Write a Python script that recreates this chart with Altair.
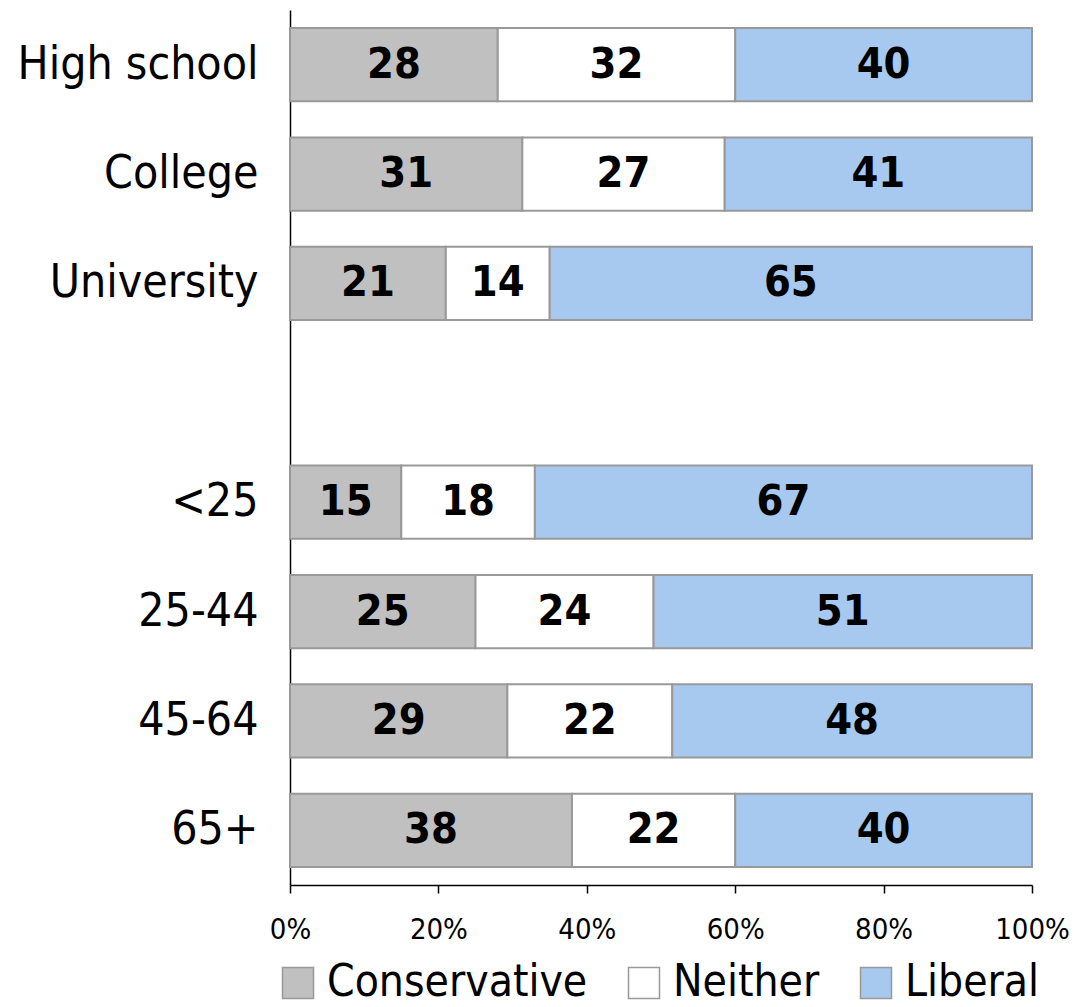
import altair as alt
import pandas as pd

groups = ["High school", "College", "University", "<25", "25-44", "45-64", "65+"]
domain_rows = ["High school", "College", "University", " ", "<25", "25-44", "45-64", "65+"]
series = ["Conservative", "Neither", "Liberal"]
conservative = [28, 31, 21, 15, 25, 29, 38]
neither = [32, 27, 14, 18, 24, 22, 22]
liberal = [40, 41, 65, 67, 51, 48, 40]
colors = ["#C0C0C0", "#FFFFFF", "#A7C9EF"]

rows = []
for i, g in enumerate(groups):
    for j, (s, vals) in enumerate(zip(series, [conservative, neither, liberal])):
        rows.append({"group": g, "series": s, "order": j, "value": vals[i]})
df = pd.DataFrame(rows)

FONT = "DejaVu Sans Condensed, DejaVu Sans"

base = alt.Chart(df).transform_stack(
    stack="value", groupby=["group"], as_=["v0", "v1"],
    sort=[alt.SortField("order", order="ascending")], offset="normalize"
).transform_calculate(mid="(datum.v0 + datum.v1) / 2")

yenc = alt.Y("group:N", scale=alt.Scale(domain=domain_rows, paddingInner=0.33, paddingOuter=0.165),
             axis=alt.Axis(title=None, ticks=False, domainColor="black", domainWidth=1.5,
                           labelFontSize=46, labelFont=FONT, labelColor="black",
                           labelPadding=32, labelLimit=0))

bars = base.mark_bar(stroke="#999999", strokeWidth=2).encode(
    y=yenc,
    x=alt.X("v0:Q", scale=alt.Scale(domain=[0, 1], nice=False),
            axis=alt.Axis(title=None, format="%", values=[0, 0.2, 0.4, 0.6, 0.8, 1.0],
                          grid=False, domainColor="black", domainWidth=1.5,
                          tickColor="black", tickWidth=1.5, tickSize=8,
                          labelFontSize=29, labelFont=FONT, labelColor="black",
                          labelPadding=22, labelFlush=False)),
    x2="v1:Q",
    fill=alt.Fill("series:N", scale=alt.Scale(domain=series, range=colors),
                  legend=alt.Legend(title=None, orient="none", legendX=-14, legendY=951,
                                    direction="horizontal", symbolType="square", symbolSize=961,
                                    symbolStrokeColor="#999999", symbolStrokeWidth=1.5,
                                    labelFontSize=44, labelFont=FONT, labelColor="black",
                                    labelOffset=7, columnPadding=34, labelLimit=0)),
)

labels = base.mark_text(font=FONT, fontWeight="bold", fontSize=43, color="black").encode(
    y=alt.Y("group:N", scale=alt.Scale(domain=domain_rows)),
    x=alt.X("mid:Q"),
    text=alt.Text("value:Q"),
)

chart = alt.layer(bars, labels).properties(
    width=742, height=875,
    autosize=alt.AutoSizeParams(type="none"),
    padding={"left": 282, "top": 2, "right": 40, "bottom": 120},
).configure_view(stroke=None)

chart.save("out.html", embed_options={"renderer": "svg", "actions": False})
